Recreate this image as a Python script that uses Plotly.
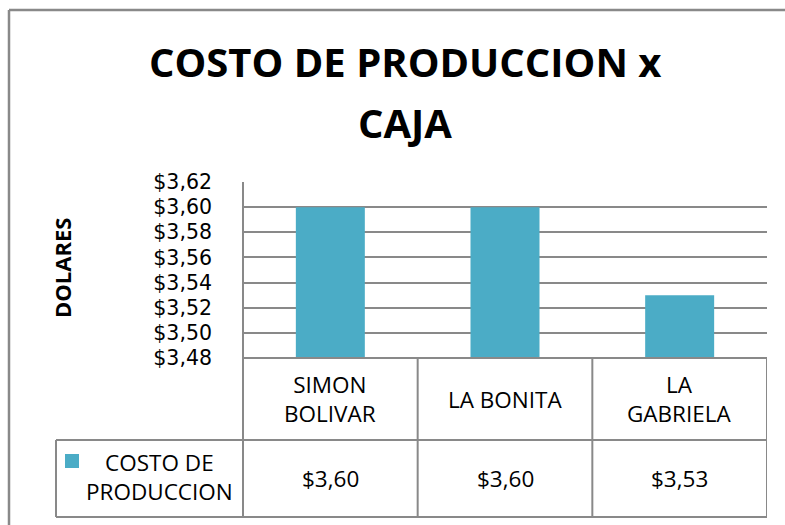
import plotly.graph_objects as go

categories = ["SIMON BOLIVAR", "LA BONITA", "LA GABRIELA"]
category_labels = ["SIMON<br>BOLIVAR", "LA BONITA", "LA<br>GABRIELA"]
series_name = "COSTO DE PRODUCCION"
series_label = "COSTO DE<br>PRODUCCION"
values = [3.60, 3.60, 3.53]
y_range = [3.48, 3.62]
y_dtick = 0.02

BAR = "#4BACC6"
LINE = "#898989"
FONT = "Open Sans"
TICKFONT = "DejaVu Sans"

W, H = 785, 525
L, R, T, B = 243, 767, 182, 358  # plot area in pixels


def px(x):
    return (x - L) / (R - L)


def py(y):
    return (B - y) / (B - T)


def fmt(v):
    return ("$%.2f" % v).replace(".", ",")


fig = go.Figure()
fig.add_trace(go.Bar(
    x=categories, y=values, name=series_name,
    marker=dict(color=BAR, line=dict(width=0)),
    width=0.395, showlegend=False,
))

shapes = []
annotations = []

def hline(x0, x1, y, xref="paper"):
    shapes.append(dict(type="line", xref=xref, yref="paper", x0=x0, x1=x1,
                       y0=py(y), y1=py(y), line=dict(color=LINE, width=2)))

def vline(x, y0, y1, xref="paper"):
    shapes.append(dict(type="line", xref=xref, yref="paper", x0=x, x1=x,
                       y0=py(y0), y1=py(y1), line=dict(color=LINE, width=2)))

# outer chart border
shapes.append(dict(type="line", xref="paper", yref="paper", x0=px(9), x1=px(800),
                   y0=py(10), y1=py(10), line=dict(color=LINE, width=2.5)))
shapes.append(dict(type="line", xref="paper", yref="paper", x0=px(9), x1=px(9),
                   y0=py(10), y1=py(540), line=dict(color=LINE, width=2.5)))

# data table grid
n = len(categories)
hline(px(L), px(R), 358)
hline(px(56), px(R), 440)
hline(px(56), px(R), 517)
vline(px(56), 440, 517)
vline(px(L), T, 517)
for i in range(1, n + 1):
    vline(i - 0.5, 358, 517, xref="x")

# legend key
shapes.append(dict(type="rect", xref="paper", yref="paper", x0=px(65), x1=px(79),
                   y0=py(468), y1=py(454), fillcolor=BAR, line=dict(width=0)))

CELL = 22.5
for i, (lab, v) in enumerate(zip(category_labels, values)):
    annotations.append(dict(x=i, y=py(399), xref="x", yref="paper", text=lab,
                            showarrow=False, font=dict(family=FONT, size=CELL, color="#000"),
                            xanchor="center", yanchor="middle"))
    annotations.append(dict(x=i, y=py(478), xref="x", yref="paper", text=fmt(v),
                            showarrow=False, font=dict(family=FONT, size=CELL, color="#000"),
                            xanchor="center", yanchor="middle"))

annotations.append(dict(x=px(159), y=py(477), xref="paper", yref="paper", text=series_label,
                        showarrow=False, font=dict(family=FONT, size=CELL, color="#000"),
                        xanchor="center", yanchor="middle", align="center"))

# title (two lines)
annotations.append(dict(x=px(405), y=py(62), xref="paper", yref="paper",
                        text="<b>COSTO DE PRODUCCION x</b>", showarrow=False,
                        font=dict(family=FONT, size=40, color="#000"),
                        xanchor="center", yanchor="middle"))
annotations.append(dict(x=px(405), y=py(122), xref="paper", yref="paper",
                        text="<b>CAJA</b>", showarrow=False,
                        font=dict(family=FONT, size=40, color="#000"),
                        xanchor="center", yanchor="middle"))

# y axis title
annotations.append(dict(x=px(62), y=py(268), xref="paper", yref="paper",
                        text="<b>DOLARES</b>", showarrow=False, textangle=-90,
                        font=dict(family=FONT, size=22, color="#000"),
                        xanchor="center", yanchor="middle"))

fig.update_layout(
    width=W, height=H,
    margin=dict(l=L, r=W - R, t=T, b=H - B, pad=0),
    paper_bgcolor="white", plot_bgcolor="white",
    separators=",.",
    bargap=0.6,
    shapes=shapes, annotations=annotations,
    font=dict(family=FONT, color="#000"),
)
fig.update_xaxes(showticklabels=False, showgrid=False, zeroline=False,
                 showline=False, range=[-0.5, n - 0.5])
fig.update_yaxes(range=y_range, dtick=y_dtick, tick0=y_range[0],
                 tickprefix="$", tickformat=".2f",
                 showgrid=True, gridcolor=LINE, gridwidth=2,
                 zeroline=False, showline=False, ticks="",
                 ticklabelstandoff=30,
                 tickfont=dict(family=TICKFONT, size=20.5, color="#000"))

fig.write_html("out.html", config={"displayModeBar": False},
               post_script="document.body.style.margin='0';document.body.style.overflow='hidden';")
